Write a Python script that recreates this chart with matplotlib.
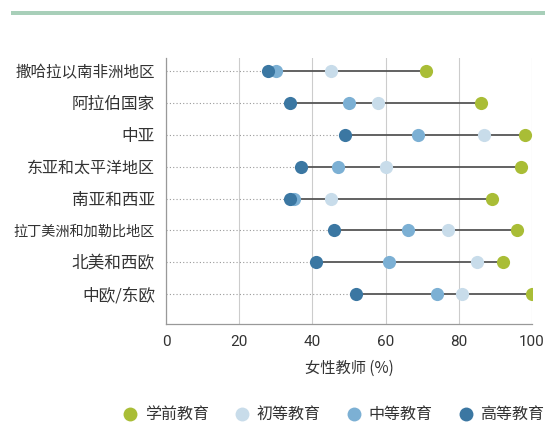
import numpy as np
import matplotlib.pyplot as plt
from matplotlib.lines import Line2D
from matplotlib.patches import Rectangle

plt.rcParams['font.family'] = ['Noto Sans CJK SC', 'DejaVu Sans']

regions = ['撒哈拉以南非洲地区', '阿拉伯国家', '中亚', '东亚和太平洋地区',
           '南亚和西亚', '拉丁美洲和加勒比地区', '北美和西欧', '中欧/东欧']
pre_primary = [71, 86, 98, 97, 89, 96, 92, 100]
primary = [45, 58, 87, 60, 45, 77, 85, 81]
secondary = [30, 50, 69, 47, 35, 66, 61, 74]
tertiary = [28, 34, 49, 37, 34, 46, 41, 52]

series = [('学前教育', pre_primary, '#a9bd36'),
          ('初等教育', primary, '#c8dcea'),
          ('中等教育', secondary, '#7cb0d4'),
          ('高等教育', tertiary, '#3b77a2')]

fig = plt.figure(figsize=(5.45, 4.25), dpi=100)
ax = fig.add_axes([0.3046, 0.2376, 0.6714, 0.6259])

# green band at top
fig.add_artist(Rectangle((11 / 545, 1 - 15 / 425), 534 / 545, 4 / 425,
                         transform=fig.transFigure, color='#a8cfb9', lw=0))

y = np.arange(len(regions))
vals = np.array([pre_primary, primary, secondary, tertiary])
lo = vals.min(axis=0)
hi = vals.max(axis=0)

for i in range(len(regions)):
    ax.plot([0, lo[i]], [y[i], y[i]], ls=(0, (1, 2)), color='#999999', lw=0.8, zorder=1)
    ax.plot([lo[i], hi[i]], [y[i], y[i]], color='#555555', lw=1.3, zorder=2)

for name, v, c in series:
    ax.scatter(v, y, s=90, color=c, zorder=3, linewidths=0, label=name)

ax.set_xlim(0, 100)
ax.set_ylim(7.94, -0.41)
ax.set_xticks([0, 20, 40, 60, 80, 100])
ax.set_yticks(y)
ax.set_yticklabels(regions, fontsize=12, color='#333333')
ax.get_yticklabels()[0].set_fontsize(11.2)
ax.get_yticklabels()[3].set_fontsize(11.5)
ax.get_yticklabels()[5].set_fontsize(10.2)
ax.tick_params(axis='both', length=0)
ax.tick_params(axis='x', pad=8, labelsize=11, labelcolor='#333333')
for t in ax.get_xticklabels():
    t.set_family(['Roboto', 'DejaVu Sans'])
ax.tick_params(axis='y', pad=8)
ax.grid(axis='x', color='#cccccc', lw=0.8)
ax.set_axisbelow(True)
for s in ['top', 'right']:
    ax.spines[s].set_visible(False)
for s in ['left', 'bottom']:
    ax.spines[s].set_color('#999999')
    ax.spines[s].set_linewidth(0.9)

ax.set_xlabel('女性教师 (%)', fontsize=11, color='#333333', labelpad=8)

handles = [Line2D([], [], marker='o', ls='', markersize=10, color=c,
                  markeredgewidth=0) for _, _, c in series]
fig.legend(handles, [s[0] for s in series], loc='lower center', ncol=4,
           bbox_to_anchor=(0.61, -0.03), frameon=False, fontsize=11.5,
           handletextpad=0.3, columnspacing=1.5, labelcolor='#333333',
           handlelength=1.2)

plt.savefig('out.png', dpi=100)
